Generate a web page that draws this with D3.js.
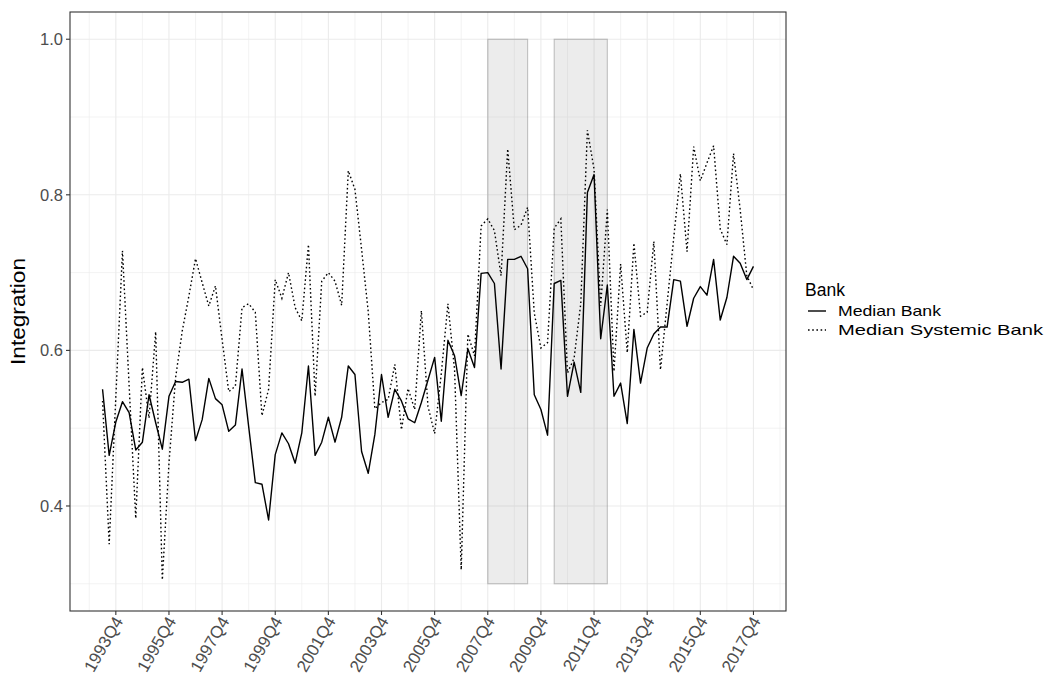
<!DOCTYPE html>
<html>
<head>
<meta charset="utf-8">
<script src="https://cdn.jsdelivr.net/npm/d3@7"></script>
<style>
html,body{margin:0;padding:0;background:#fff;}
text{font-family:"Liberation Sans",Arial,Helvetica,sans-serif;}
</style>
</head>
<body>
<svg id="chart" width="1048" height="677"></svg>
<script>
// ---- data ----
const startYear = 1993, startQuarter = 2; // first observation 1993Q2, last 2017Q4
const medianBank = [
0.550,0.465,0.508,0.534,0.520,0.472,0.482,0.543,0.507,0.473,
0.541,0.560,0.559,0.563,0.484,0.511,0.564,0.538,0.530,0.496,
0.504,0.576,0.502,0.430,0.428,0.382,0.466,0.494,0.480,0.455,
0.494,0.580,0.465,0.482,0.514,0.482,0.514,0.580,0.569,0.470,
0.442,0.492,0.569,0.514,0.550,0.535,0.512,0.507,0.533,0.562,
0.591,0.509,0.613,0.593,0.542,0.602,0.578,0.699,0.700,0.686,
0.576,0.717,0.717,0.721,0.705,0.543,0.524,0.491,0.686,0.690,
0.541,0.585,0.546,0.803,0.826,0.615,0.684,0.541,0.558,0.506,
0.627,0.558,0.603,0.621,0.630,0.630,0.691,0.689,0.631,0.667,
0.682,0.671,0.717,0.639,0.668,0.721,0.712,0.691,0.708];
const medianSystemicBank = [
0.535,0.351,0.540,0.728,0.555,0.384,0.578,0.513,0.624,0.305,
0.455,0.565,0.625,0.670,0.718,0.687,0.657,0.683,0.614,0.547,
0.554,0.655,0.660,0.649,0.516,0.550,0.691,0.667,0.700,0.655,
0.638,0.736,0.541,0.689,0.700,0.689,0.658,0.831,0.807,0.730,
0.650,0.525,0.533,0.537,0.582,0.498,0.551,0.524,0.651,0.528,
0.493,0.570,0.660,0.575,0.318,0.621,0.593,0.760,0.769,0.754,
0.696,0.859,0.755,0.761,0.784,0.648,0.603,0.610,0.757,0.769,
0.571,0.590,0.660,0.883,0.833,0.657,0.781,0.573,0.711,0.597,
0.738,0.644,0.649,0.740,0.575,0.660,0.745,0.827,0.727,0.862,
0.818,0.841,0.863,0.756,0.736,0.853,0.781,0.696,0.678];
const seriesNames = ["Median Bank","Median Systemic Bank"];
const xTickLabels = ["1993Q4","1995Q4","1997Q4","1999Q4","2001Q4","2003Q4","2005Q4","2007Q4","2009Q4","2011Q4","2013Q4","2015Q4","2017Q4"];
const yTicks = [0.4,0.6,0.8,1.0];
const yMinor = [0.3,0.5,0.7,0.9];
const crisisStart = ["2007Q4","2010Q2"];
const crisisEnd = ["2009Q2","2012Q2"];
const crisisLow = 0.3, crisisHigh = 1.0;

// quarter labels
const quarters = medianBank.map((d,i)=>{
  const q = startQuarter - 1 + i;
  return (startYear + Math.floor(q/4)) + "Q" + (q%4 + 1);
});
const qIndex = lab => {
  const y = +lab.slice(0,4), q = +lab.slice(5);
  return (y - startYear)*4 + (q - startQuarter);
};

// ---- layout ----
const svg = d3.select("#chart");
const P = {left:70, right:786, top:12, bottom:611};
const n = quarters.length - 1;
const x = d3.scaleLinear().domain([-0.05*n, n*1.05]).range([P.left, P.right]);
const y = d3.scaleLinear().domain([0.265, 1.035]).range([P.bottom, P.top]);

svg.append("rect").attr("width",1048).attr("height",677).attr("fill","#fff");

// grid
const g = svg.append("g");
const xMinorIdx = xTickLabels.map(l=>qIndex(l)-4).concat([qIndex(xTickLabels[xTickLabels.length-1])+4]);
g.selectAll(".ymin").data(yMinor).join("line")
  .attr("x1",P.left).attr("x2",P.right).attr("y1",d=>y(d)).attr("y2",d=>y(d))
  .attr("stroke","#ebebeb").attr("stroke-width",0.6);
g.selectAll(".xmin").data(xMinorIdx.filter(v=>x(v)>P.left&&x(v)<P.right)).join("line")
  .attr("y1",P.top).attr("y2",P.bottom).attr("x1",d=>x(d)).attr("x2",d=>x(d))
  .attr("stroke","#ebebeb").attr("stroke-width",0.6);
g.selectAll(".ymaj").data(yTicks).join("line")
  .attr("x1",P.left).attr("x2",P.right).attr("y1",d=>y(d)).attr("y2",d=>y(d))
  .attr("stroke","#ebebeb").attr("stroke-width",1.1);
g.selectAll(".xmaj").data(xTickLabels).join("line")
  .attr("y1",P.top).attr("y2",P.bottom).attr("x1",d=>x(qIndex(d))).attr("x2",d=>x(qIndex(d)))
  .attr("stroke","#ebebeb").attr("stroke-width",1.1);

// crisis rectangles
svg.selectAll(".crisis").data(crisisStart.map((s,i)=>({s,e:crisisEnd[i]}))).join("rect")
  .attr("x",d=>x(qIndex(d.s))).attr("width",d=>x(qIndex(d.e))-x(qIndex(d.s)))
  .attr("y",y(crisisHigh)).attr("height",y(crisisLow)-y(crisisHigh))
  .attr("fill","rgba(127,127,127,0.15)").attr("stroke","rgba(127,127,127,0.45)").attr("stroke-width",1.1);

// lines
const line = d3.line().x((d,i)=>x(i)).y(d=>y(d));
svg.append("path").datum(medianBank).attr("d",line)
  .attr("fill","none").attr("stroke","#000").attr("stroke-width",1.4).attr("stroke-linejoin","round");
svg.append("path").datum(medianSystemicBank).attr("d",line)
  .attr("fill","none").attr("stroke","#000").attr("stroke-width",1.4).attr("stroke-dasharray","1.6,2.6");

// panel border
svg.append("rect").attr("x",P.left).attr("y",P.top).attr("width",P.right-P.left).attr("height",P.bottom-P.top)
  .attr("fill","none").attr("stroke","#333").attr("stroke-width",1.1);

// y axis
const ya = svg.append("g");
ya.selectAll("line").data(yTicks).join("line")
  .attr("x1",P.left-4).attr("x2",P.left).attr("y1",d=>y(d)).attr("y2",d=>y(d))
  .attr("stroke","#333").attr("stroke-width",1.1);
ya.selectAll("text").data(yTicks).join("text")
  .attr("x",P.left-7).attr("y",d=>y(d)).attr("dy","0.36em").attr("text-anchor","end")
  .attr("font-size",16.5).attr("fill","#4d4d4d").text(d=>d3.format(".1f")(d));

// x axis
const xa = svg.append("g");
xa.selectAll("line").data(xTickLabels).join("line")
  .attr("x1",d=>x(qIndex(d))).attr("x2",d=>x(qIndex(d))).attr("y1",P.bottom).attr("y2",P.bottom+4)
  .attr("stroke","#333").attr("stroke-width",1.1);
xa.selectAll("text").data(xTickLabels).join("text")
  .attr("transform",d=>`translate(${x(qIndex(d))-2.5},${P.bottom+4}) rotate(-60)`)
  .attr("text-anchor","end").attr("dy","0.7em")
  .attr("font-size",17).attr("fill","#4d4d4d").text(d=>d);

// axis title
svg.append("text").attr("transform",`translate(25,${(P.top+P.bottom)/2}) rotate(-90)`)
  .attr("text-anchor","middle").attr("font-size",19.5).attr("fill","#000")
  .attr("textLength",107).attr("lengthAdjust","spacingAndGlyphs").text("Integration");

// legend
const lg = svg.append("g");
lg.append("text").attr("x",805).attr("y",296).attr("font-size",17.5).attr("fill","#000").text("Bank");
const ly = [311, 330];
const legendWidths = [103, 205];
seriesNames.forEach((s,i)=>{
  lg.append("line").attr("x1",808).attr("x2",826).attr("y1",ly[i]).attr("y2",ly[i])
    .attr("stroke","#000").attr("stroke-width",1.4)
    .attr("stroke-dasharray", i===1 ? "1.6,2.6" : null);
  lg.append("text").attr("x",838).attr("y",ly[i]).attr("dy","0.36em")
    .attr("font-size",14.5).attr("fill","#000")
    .attr("textLength",legendWidths[i]).attr("lengthAdjust","spacingAndGlyphs").text(s);
});
</script>
</body>
</html>
